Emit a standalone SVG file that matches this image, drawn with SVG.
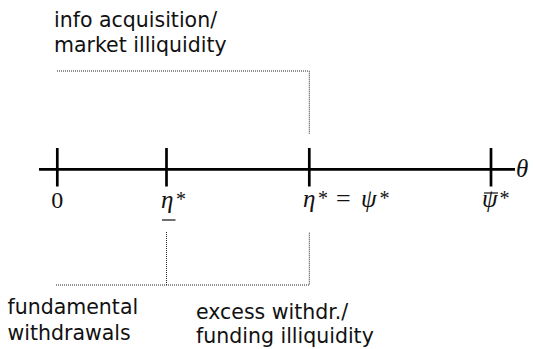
<svg xmlns="http://www.w3.org/2000/svg" width="533" height="349" viewBox="0 0 533 349">
<style>
.cap{font-family:"DejaVu Sans",sans-serif;font-size:20.5px;fill:#111}
.m{font-family:"Liberation Serif","DejaVu Serif",serif;font-size:24px;fill:#111}
.g{font-family:"Liberation Serif","DejaVu Serif",serif;font-size:25px;font-style:italic;fill:#111}
.eq{font-family:"Liberation Serif","DejaVu Serif",serif;font-size:26px;fill:#111}
.st{font-family:"Liberation Serif","DejaVu Serif",serif;font-size:20px;fill:#111}
.axis{stroke:#000;stroke-width:2.7;fill:none}
.dot{stroke:#222;stroke-width:1;stroke-dasharray:1 1;fill:none}
</style>
<rect width="533" height="349" fill="#fff"/>
<g id="axis">
<line class="axis" x1="39" y1="169.3" x2="515" y2="169.3"/>
<line class="axis" x1="57.3" y1="148" x2="57.3" y2="186.5"/>
<line class="axis" x1="166.5" y1="148" x2="166.5" y2="186.5"/>
<line class="axis" x1="309.3" y1="148" x2="309.3" y2="186.5"/>
<line class="axis" x1="491" y1="148" x2="491" y2="186.5"/>
<text class="g" x="516" y="177">θ</text>
</g>
<g id="tick-0"><text class="m" x="57.3" y="208" text-anchor="middle">0</text></g>
<g id="tick-eta-low">
<text class="g" x="161" y="208">η</text>
<text class="st" x="176" y="206">*</text>
<line x1="162" y1="220" x2="175.5" y2="220" stroke="#111" stroke-width="1.2"/>
</g>
<g id="tick-eta-psi">
<text class="g" x="303" y="207">η</text>
<text class="st" x="318" y="205">*</text>
<text class="eq" x="336" y="207">=</text>
<text class="g" x="361" y="207">ψ</text>
<text class="st" x="379.5" y="205">*</text>
</g>
<g id="tick-psi-bar">
<line x1="484" y1="193" x2="498" y2="193" stroke="#111" stroke-width="1.2"/>
<text class="g" x="482" y="207">ψ</text>
<text class="st" x="499.5" y="205">*</text>
</g>
<g id="caption-info">
<text class="cap" x="54" y="26.7">info acquisition/</text>
<text class="cap" x="54" y="52">market illiquidity</text>
</g>
<g id="caption-fundamental">
<text class="cap" x="7.5" y="314">fundamental</text>
<text class="cap" x="7.5" y="340">withdrawals</text>
</g>
<g id="caption-excess">
<text class="cap" x="196" y="318.5">excess withdr./</text>
<text class="cap" x="196" y="343">funding illiquidity</text>
</g>
<g id="connectors">
<polyline class="dot" points="57,71 309.3,71 309.3,134"/>
<polyline class="dot" points="166.5,232 166.5,285"/>
<polyline class="dot" points="56,285 309.3,285 309.3,232"/>
</g>
</svg>
